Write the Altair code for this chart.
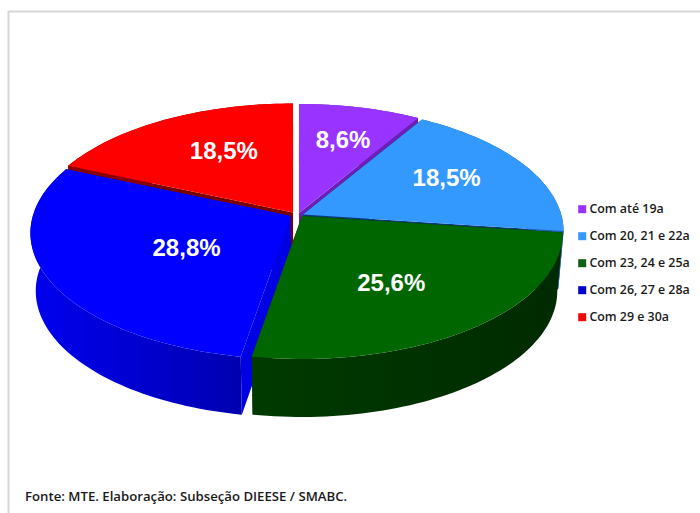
import math
import altair as alt
import pandas as pd

# Age bands of the distribution and their shares, in percent
categories = ["Com até 19a", "Com 20, 21 e 22a", "Com 23, 24 e 25a", "Com 26, 27 e 28a", "Com 29 e 30a"]
shares = [8.6, 18.5, 25.6, 28.8, 18.5]
share_labels = ["8,6%", "18,5%", "25,6%", "28,8%", "18,5%"]

top_colors = ["#9933FF", "#3399FF", "#006600", "#0000FF", "#FF0000"]
legend_colors = ["#9933FF", "#3399FF", "#0F5F14", "#0000CC", "#EE0A0A"]
side_left = ["#6A1FB5", "#1F5FA8", "#003A00", "#0000F0", "#8A0000"]
side_right = ["#6A1FB5", "#1F5FA8", "#002A00", "#0000B0", "#8A0000"]
cut_colors = ["#6A1FB5", "#0A3A78", "#002A00", "#0000E4", "#7A0000"]

# Perspective pie geometry: centre, radii, foreshortening, thickness
CX, CY, RX, RY, K = 297.0, 213.0, 258.2, 123.7, 0.135
DEPTH, BOTTOM_SCALE = 58.0, 0.98

# Painting order (far to near) and how far each slice is pulled from the centre
paint_order = [4, 0, 1, 3, 2]
offsets = [(2, 0), (6, 1.5), (5, 3), (-6, 3), (-4, -0.5)]
label_radius = [0.68, 0.65, 0.60, 0.48, 0.62]
label_shift = [(3, 2), (4, 0), (-4, 7), (2, 7), (9, -1)]


def project(theta, r=1.0):
    u, v = r * math.sin(theta), r * math.cos(theta)
    w = 1 + K * v
    return CX + RX * u / w, CY - RY * v / w


def lower(p):
    return CX + (p[0] - CX) * BOTTOM_SCALE, p[1] + DEPTH


def shifted(p, off):
    return p[0] + off[0], p[1] + off[1]


x_scale = alt.Scale(domain=[0, 700], range=[0, 700], nice=False, zero=False)
y_scale = alt.Scale(domain=[0, 513], range=[0, 513], nice=False, zero=False)
x_enc = alt.X("x:Q", scale=x_scale, axis=None)
y_enc = alt.Y("y:Q", scale=y_scale, axis=None)


def shape(points, fill):
    df = pd.DataFrame(points + points[:1], columns=["x", "y"])
    df["i"] = range(len(df))
    return alt.Chart(df).mark_line(fill=fill, strokeWidth=0).encode(x=x_enc, y=y_enc, order="i:Q")


# Slice boundaries, clockwise from twelve o'clock
total = sum(shares)
edges = [0.0]
for s in shares:
    edges.append(edges[-1] + s / total * 2 * math.pi)

layers = []

# Chart frame
frame_v = pd.DataFrame({"x": [8.5], "y": [11], "y2": [513]})
frame_h = pd.DataFrame({"x": [8.5], "x2": [700], "y": [11.5]})
layers.append(alt.Chart(frame_v).mark_rule(color="#D6D6D6", strokeWidth=2).encode(x=x_enc, y=y_enc, y2="y2:Q"))
layers.append(alt.Chart(frame_h).mark_rule(color="#D6D6D6", strokeWidth=2).encode(x=x_enc, x2="x2:Q", y=y_enc))

for idx in paint_order:
    off = offsets[idx]
    a0, a1 = edges[idx], edges[idx + 1]
    n = max(8, int((a1 - a0) * 40))
    rim = [shifted(project(a0 + (a1 - a0) * j / n), off) for j in range(n + 1)]
    apex = shifted((CX, CY), off)
    # Extruded body: the two cut faces first, then the outer wall over them
    for end in (rim[0], rim[-1]):
        layers.append(shape([apex, end, lower(end), lower(apex)], cut_colors[idx]))
    wall = rim + [lower(p) for p in reversed(rim)]
    layers.append(shape(wall, alt.Gradient(
        gradient="linear", x1=0, x2=1, y1=0, y2=0,
        stops=[alt.GradientStop(offset=0, color=side_left[idx]),
               alt.GradientStop(offset=1, color=side_right[idx])])))
    # Top face
    layers.append(shape([apex] + rim, top_colors[idx]))

# Share labels
for idx in range(len(shares)):
    mid = (edges[idx] + edges[idx + 1]) / 2
    lx, ly = project(mid, label_radius[idx])
    sx, sy = label_shift[idx]
    df = pd.DataFrame({"x": [lx + sx], "y": [ly + sy], "t": [share_labels[idx]]})
    layers.append(alt.Chart(df).mark_text(
        font="Liberation Sans", fontWeight="bold", fontSize=24, color="#FFFFFF", baseline="middle"
    ).encode(x=x_enc, y=y_enc, text="t:N"))

# Legend
legend_df = pd.DataFrame({"category": categories})
layers.append(alt.Chart(legend_df).mark_square(size=0, opacity=1).encode(
    fill=alt.Fill("category:N", sort=categories,
                  scale=alt.Scale(domain=categories, range=legend_colors),
                  legend=alt.Legend(orient="none", legendX=576, legendY=203, title=None,
                                    symbolType="square", symbolSize=64, rowPadding=14,
                                    labelFont="Open Sans", labelFontSize=12.4, labelFontWeight=600,
                                    labelColor="#1A1A1A", symbolStrokeWidth=0, labelOffset=1))))

# Source note
source_df = pd.DataFrame({"x": [25], "y": [497], "t": ["Fonte: MTE. Elaboração: Subseção DIEESE / SMABC."]})
layers.append(alt.Chart(source_df).mark_text(
    font="Open Sans", fontWeight=600, fontSize=13.2, color="#1A1A1A", align="left", baseline="middle"
).encode(x=x_enc, y=y_enc, text="t:N"))

chart = alt.layer(*layers).properties(
    width=700, height=513, padding=0, autosize=alt.AutoSizeParams(type="none"),
    background="#FFFFFF",
).configure_view(stroke=None)

chart.save("out.html", embed_options={"renderer": "svg", "actions": False})
